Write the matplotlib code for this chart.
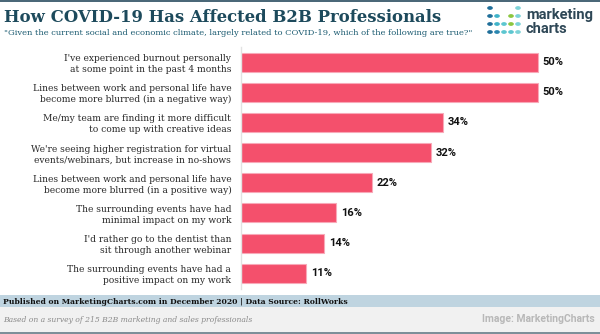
import matplotlib.pyplot as plt
from matplotlib.patches import Rectangle

categories = [
    "I've experienced burnout personally\nat some point in the past 4 months",
    "Lines between work and personal life have\nbecome more blurred (in a negative way)",
    "Me/my team are finding it more difficult\nto come up with creative ideas",
    "We're seeing higher registration for virtual\nevents/webinars, but increase in no-shows",
    "Lines between work and personal life have\nbecome more blurred (in a positive way)",
    "The surrounding events have had\nminimal impact on my work",
    "I'd rather go to the dentist than\nsit through another webinar",
    "The surrounding events have had a\npositive impact on my work",
]
values = [50, 50, 34, 32, 22, 16, 14, 11]

title = "How COVID-19 Has Affected B2B Professionals"
subtitle = ('"Given the current social and economic climate, largely related to COVID-19, '
            'which of the following are true?"')
footer = "Published on MarketingCharts.com in December 2020 | Data Source: RollWorks"
note = "Based on a survey of 215 B2B marketing and sales professionals"
credit = "Image: MarketingCharts"

W, H = 600, 334
fig = plt.figure(figsize=(W / 100, H / 100), dpi=100)
fig.patch.set_facecolor("white")


def fx(px):
    return px / W


def fy(py):
    return 1 - py / H


# top border
fig.add_artist(Rectangle((0, fy(2)), 1, 2 / H, transform=fig.transFigure,
                         facecolor="#4b6878", edgecolor="none"))

# title + subtitle
fig.text(fx(4), fy(17), title, fontsize=11.9, fontweight="bold", family="DejaVu Serif",
         color="#1d4a5c", va="center", ha="left")
fig.text(fx(4), fy(33), subtitle, fontsize=6.0, family="DejaVu Serif",
         color="#1a5a70", va="center", ha="left")

# logo
dot_cols = ["#1f6e99", "#3fb3c9", "#5cc6d0", "#8cc63f", "#7dd3d8"]
dot_grid = [
    [1, 0, 0, 0, 1],
    [1, 1, 0, 1, 1],
    [1, 1, 1, 1, 1],
    [1, 1, 1, 1, 1],
]
for r, row in enumerate(dot_grid):
    for c, on in enumerate(row):
        if on:
            col = dot_cols[c]
            if r == 3 and c == 3:
                col = "#5cc6d0"
            if r == 3 and c == 1:
                col = "#2a86b0"
            fig.add_artist(plt.Circle((fx(490 + 7 * c), fy(8 + 8 * r)), 2.1 / W,
                                      transform=fig.transFigure, color=col))
fig.text(fx(526), fy(15), "marketing", fontsize=10.5, fontweight="bold", family="Roboto",
         color="#2e4756", va="center", ha="left")
fig.text(fx(526), fy(29), "charts", fontsize=10.5, fontweight="bold", family="Roboto",
         color="#2e4756", va="center", ha="left")

# bars
ax = fig.add_axes([fx(241), fy(289), 1 - fx(241), 242 / H])
pos = list(range(len(values)))
ax.barh(pos, values, height=0.63, color="#f4506c", edgecolor="#f8a9b8", linewidth=0.8)
for i, v in enumerate(values):
    ax.text(v + 0.8, i, f"{v}%", va="center", ha="left", fontsize=8,
            fontweight="bold", family="Roboto", color="#111111")

ax.set_xlim(0, 359 / 5.94)
ax.set_ylim(7.52, -0.5)
ax.set_yticks(pos)
ax.set_yticklabels(categories, fontsize=6.6, family="DejaVu Serif", color="#2a2a2a",
                   linespacing=1.25)
ax.tick_params(axis="y", length=0, pad=7)
ax.set_xticks([])
for s in ["top", "right", "bottom"]:
    ax.spines[s].set_visible(False)
ax.spines["left"].set_color("#e2e2e2")
ax.spines["left"].set_linewidth(1)

# footer bands
fig.add_artist(Rectangle((0, fy(307)), 1, 12 / H, transform=fig.transFigure,
                         facecolor="#bfd4e0", edgecolor="none"))
fig.add_artist(Rectangle((0, fy(332)), 1, 25 / H, transform=fig.transFigure,
                         facecolor="#f1f1f1", edgecolor="none"))
fig.add_artist(Rectangle((0, 0), 1, 2 / H, transform=fig.transFigure,
                         facecolor="#7d8f99", edgecolor="none"))
fig.text(fx(3), fy(301.5), footer, fontsize=5.5, fontweight="bold", family="DejaVu Serif",
         color="#111111", va="center", ha="left")
fig.text(fx(3), fy(319.5), note, fontsize=5.5, style="italic", family="DejaVu Serif",
         color="#8a8a8a", va="center", ha="left")
fig.text(fx(595), fy(319.5), credit, fontsize=7.5, fontweight="bold", family="Roboto",
         color="#b8b8b8", va="center", ha="right")

fig.savefig("out.png", dpi=100)
